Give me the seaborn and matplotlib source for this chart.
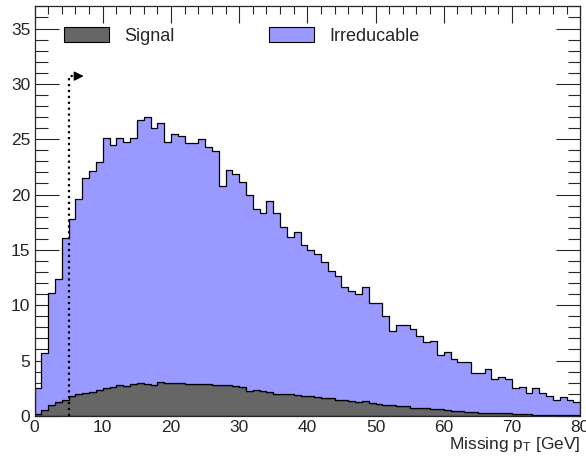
import numpy as np
import pandas as pd
import matplotlib
matplotlib.use("Agg")
import matplotlib.pyplot as plt
import matplotlib.patches as mpatches
from matplotlib.ticker import MultipleLocator
import seaborn as sns

# Missing pT histogram, 1 GeV bins from 0 to 80
n_bins = 80
pt_range = (0, 80)
bin_centers = np.arange(0, 80) + 0.5

# stacked total (top of the blue area), read bin by bin
total_counts = [
    2.5, 5.7, 11.1, 12.4, 16.1, 17.75, 19.6, 21.5, 22.1, 22.9,
    25.1, 24.5, 25.15, 24.75, 25.1, 26.75, 27.05, 26.05, 26.5, 24.75,
    25.45, 25.3, 24.7, 24.7, 25.05, 24.3, 23.9, 20.8, 22.2, 21.9,
    21.1, 20.0, 18.65, 18.35, 19.45, 18.35, 17.05, 16.15, 16.6, 15.45,
    15.0, 14.65, 13.9, 13.1, 12.6, 11.6, 11.3, 11.0, 11.6, 10.2,
    10.2, 9.05, 7.65, 8.25, 8.25, 7.85, 7.25, 6.65, 6.8, 5.5,
    5.8, 5.1, 4.85, 4.85, 3.85, 3.9, 4.2, 3.3, 3.55, 3.3,
    2.5, 2.65, 2.1, 2.5, 2.1, 1.75, 1.4, 1.7, 1.4, 1.25,
]

# signal (gray, bottom of the stack)
signal_counts = [
    0.15, 0.5, 0.95, 1.25, 1.45, 1.75, 1.95, 2.05, 2.2, 2.3,
    2.5, 2.6, 2.75, 2.7, 2.85, 3.0, 2.9, 2.8, 3.1, 2.95,
    2.95, 3.0, 2.9, 2.9, 2.85, 2.85, 2.8, 2.8, 2.8, 2.72,
    2.57, 2.26, 2.36, 2.26, 2.17, 2.02, 1.96, 1.96, 1.87, 1.81,
    1.81, 1.72, 1.63, 1.63, 1.42, 1.42, 1.33, 1.27, 1.36, 1.12,
    1.09, 1.0, 1.0, 0.9, 0.85, 0.7, 0.75, 0.7, 0.6, 0.6,
    0.5, 0.45, 0.4, 0.38, 0.35, 0.3, 0.25, 0.25, 0.25, 0.22,
    0.15, 0.15, 0.13, 0.12, 0.1, 0.1, 0.1, 0.08, 0.08, 0.05,
]

process_names = ["Signal", "Irreducable"]
process_colors = {"Signal": "#666666", "Irreducable": "#9999ff"}

cut_value = 5
cut_height = 30.7
arrow_end = 7.2

# build long table for seaborn
irreducible_counts = np.array(total_counts) - np.array(signal_counts)
hist_df = pd.concat([
    pd.DataFrame({"pt": bin_centers, "count": signal_counts, "process": "Signal"}),
    pd.DataFrame({"pt": bin_centers, "count": irreducible_counts, "process": "Irreducable"}),
])

sns.set_style("ticks")
plt.rcParams["font.family"] = ["Liberation Sans", "DejaVu Sans"]
plt.rcParams["mathtext.fontset"] = "custom"
plt.rcParams["mathtext.rm"] = "Liberation Sans"

fig = plt.figure(figsize=(5.86, 4.58), dpi=100)
ax = fig.add_axes([0.059, 0.092, 0.931, 0.894])

sns.histplot(
    data=hist_df, x="pt", weights="count", hue="process",
    hue_order=["Irreducable", "Signal"], multiple="stack",
    bins=n_bins, binrange=pt_range, element="step", palette=process_colors,
    alpha=1, edgecolor="black", linewidth=0.9, legend=False, ax=ax,
)

# cut line: dotted elbow with a small solid arrow head
ax.plot([cut_value, cut_value, arrow_end - 0.5], [0, cut_height, cut_height],
        color="black", ls=":", lw=1.6)
ax.annotate("", xy=(arrow_end, cut_height), xytext=(arrow_end - 0.7, cut_height),
            arrowprops=dict(arrowstyle="-|>,head_length=0.8,head_width=0.4",
                            color="black", lw=1.0, shrinkA=0, shrinkB=0,
                            mutation_scale=7))

ax.set_xlim(0, 80)
ax.set_ylim(0, 37)
ax.xaxis.set_major_locator(MultipleLocator(10))
ax.xaxis.set_minor_locator(MultipleLocator(2))
ax.yaxis.set_major_locator(MultipleLocator(5))
ax.yaxis.set_minor_locator(MultipleLocator(1))
ax.tick_params(which="both", direction="in", top=True, right=True, labelsize=12.5, width=0.8)
ax.tick_params(axis="x", which="major", length=12, pad=3)
ax.tick_params(axis="x", which="minor", length=6)
ax.tick_params(axis="y", which="major", length=17, pad=3)
ax.tick_params(axis="y", which="minor", length=9)
for side in ax.spines.values():
    side.set_linewidth(0.9)

ax.set_ylabel("")
ax.set_xlabel(r"Missing $\mathregular{p_{T}}$ [GeV]", fontsize=12.5, loc="right", labelpad=0)

handles = [mpatches.Patch(facecolor=process_colors[p], edgecolor="black", linewidth=0.8)
           for p in process_names]
ax.legend(handles, process_names, loc="upper left", bbox_to_anchor=(0.024, 0.99),
          ncol=2, frameon=False, fontsize=13, handlelength=2.5, handleheight=0.95,
          handletextpad=0.85, columnspacing=5.2)

plt.savefig("out.png", dpi=100)
